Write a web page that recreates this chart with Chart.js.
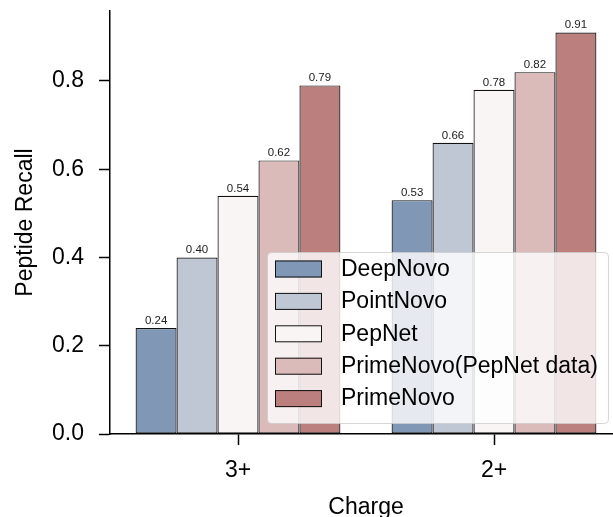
<!DOCTYPE html>
<html>
<head>
<meta charset="utf-8">
<script src="https://cdn.jsdelivr.net/npm/chart.js@4"></script>
<style>
  html, body { margin: 0; padding: 0; background: #fff; overflow: hidden; }
  #wrap { width: 613px; height: 517px; overflow: hidden; }
</style>
</head>
<body>
<div id="wrap"><canvas id="recallChart" width="640" height="517"></canvas></div>
<script>
// Дані з графіка
const charges = ['3+', '2+'];
const methods = ['DeepNovo', 'PointNovo', 'PepNet', 'PrimeNovo(PepNet data)', 'PrimeNovo'];
const deepNovo = [0.24, 0.53];
const pointNovo = [0.40, 0.66];
const pepNet = [0.54, 0.78];
const primeNovoPepNetData = [0.62, 0.82];
const primeNovo = [0.79, 0.91];
const yTicks = [0, 0.2, 0.4, 0.6, 0.8];

const colors = ['#8097b6', '#bfc7d5', '#f9f5f4', '#dbbbb9', '#bb7f7e'];
const seriesValues = [deepNovo, pointNovo, pepNet, primeNovoPepNetData, primeNovo];
const FONT = '"Liberation Sans", Arial, Helvetica, sans-serif';

Chart.defaults.font.family = FONT;
Chart.defaults.color = '#000';

// Підписи значень над стовпцями
const valueLabels = {
    id: 'valueLabels',
    afterDatasetsDraw(chart) {
        const ctx = chart.ctx;
        ctx.save();
        ctx.font = '11.5px ' + FONT;
        ctx.fillStyle = '#222';
        ctx.textAlign = 'center';
        ctx.textBaseline = 'alphabetic';
        chart.data.datasets.forEach((ds, i) => {
            chart.getDatasetMeta(i).data.forEach((bar, j) => {
                ctx.fillText(ds.data[j].toFixed(2), bar.x, bar.y - 4);
            });
        });
        ctx.restore();
    }
};

// Легенда всередині області графіка (праворуч знизу)
const innerLegend = {
    id: 'innerLegend',
    afterDraw(chart) {
        const ctx = chart.ctx;
        const area = chart.chartArea;
        const boxW = 341, boxH = 171;
        const bx = 608 - boxW;
        const by = area.bottom - 11 - boxH;
        ctx.save();
        ctx.beginPath();
        ctx.roundRect(bx + 0.5, by + 0.5, boxW, boxH, 4);
        ctx.fillStyle = 'rgba(255,255,255,0.8)';
        ctx.fill();
        ctx.strokeStyle = 'rgba(204,204,204,0.8)';
        ctx.lineWidth = 1;
        ctx.stroke();
        ctx.font = '23px ' + FONT;
        ctx.textBaseline = 'middle';
        ctx.textAlign = 'left';
        chart.data.datasets.forEach((ds, i) => {
            const sy = by + 8.5 + i * 32.4;
            ctx.fillStyle = ds.backgroundColor;
            ctx.fillRect(bx + 8, sy, 47, 17);
            ctx.strokeStyle = '#111';
            ctx.lineWidth = 1;
            ctx.strokeRect(bx + 8.5, sy + 0.5, 46, 16);
            ctx.fillStyle = '#000';
            ctx.fillText(ds.label, bx + 74, sy + 9);
        });
        ctx.restore();
    }
};

const ctx = document.getElementById('recallChart').getContext('2d');
const chart = new Chart(ctx, {
    type: 'bar',
    data: {
        labels: charges,
        datasets: methods.map((name, i) => ({
            label: name,
            data: seriesValues[i],
            backgroundColor: colors[i],
            borderColor: '#111',
            borderWidth: 1.2,
            borderSkipped: false,
            categoryPercentage: 0.8,
            barPercentage: 1.0
        }))
    },
    options: {
        responsive: false,
        animation: false,
        devicePixelRatio: 1,
        layout: { padding: { top: 11, right: 18, left: 0, bottom: 0 } },
        plugins: {
            legend: { display: false },
            tooltip: { enabled: false }
        },
        scales: {
            x: {
                afterFit: scale => {
                    scale.height = 83;
                    scale.paddingLeft = 0;
                    scale.paddingRight = 0;
                },
                grid: {
                    offset: false,
                    drawOnChartArea: false,
                    tickLength: 11,
                    tickColor: '#000',
                    tickWidth: 1.5
                },
                border: { color: '#000', width: 1.5 },
                ticks: { font: { size: 23 }, padding: 12, color: '#000' },
                title: {
                    display: true,
                    text: 'Charge',
                    font: { size: 23, lineHeight: 1 },
                    padding: { top: 0, bottom: -2 },
                    color: '#000'
                }
            },
            y: {
                min: 0,
                max: 0.9586,
                afterFit: scale => {
                    scale.width = 110;
                    scale.paddingTop = 0;
                    scale.paddingBottom = 0;
                },
                afterBuildTicks: scale => { scale.ticks = yTicks.map(v => ({ value: v })); },
                grid: {
                    drawOnChartArea: false,
                    tickLength: 11,
                    tickColor: '#000',
                    tickWidth: 1.5
                },
                border: { color: '#000', width: 1.5 },
                ticks: {
                    font: { size: 23 },
                    padding: 15,
                    color: '#000',
                    callback: v => v.toFixed(1)
                },
                title: {
                    display: true,
                    text: 'Peptide Recall',
                    font: { size: 23, lineHeight: 1 },
                    padding: { top: 14, bottom: 0 },
                    color: '#000'
                }
            }
        }
    },
    plugins: [valueLabels, innerLegend]
});
</script>
</body>
</html>
